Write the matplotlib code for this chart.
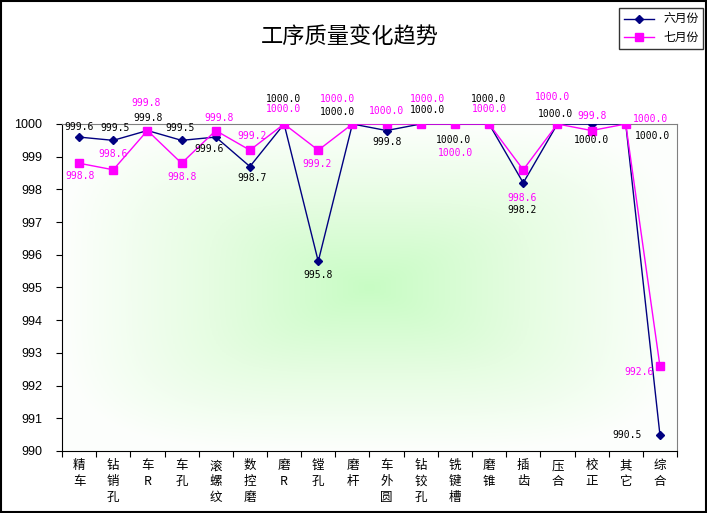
import numpy as np
import matplotlib.pyplot as plt
from matplotlib.colors import LinearSegmentedColormap

plt.rcParams['font.family'] = ['Noto Sans CJK SC', 'DejaVu Sans']

# data
cats = ['精\n车', '钻\n销\n孔', '车\nR', '车\n孔', '滚\n螺\n纹', '数\n控\n磨', '磨\nR', '镗\n孔', '磨\n杆',
        '车\n外\n圆', '钻\n铰\n孔', '铣\n键\n槽', '磨\n锥', '插\n齿', '压\n合', '校\n正', '其\n它', '综\n合']
june = [999.6, 999.5, 999.8, 999.5, 999.6, 998.7, 1000.0, 995.8, 1000.0,
        999.8, 1000.0, 1000.0, 1000.0, 998.2, 1000.0, 1000.0, 1000.0, 990.5]
july = [998.8, 998.6, 999.8, 998.8, 999.8, 999.2, 1000.0, 999.2, 1000.0,
        1000.0, 1000.0, 1000.0, 1000.0, 998.6, 1000.0, 999.8, 1000.0, 992.6]

# label offsets in pixels (dx, dy)
june_off = [(0, 10), (2, 12), (1, 12.5), (-2, 12), (-7, -12), (2, -11.5), (-1, 25), (0, -14), (-15, 12),
            (0, -11.5), (7, 14), (-1, -16), (-1, 25), (-1, -27), (-2, 10), (0, -16), (27, -12), (-33, 0)]
july_off = [(1, -13), (0, 16), (-1, 27.5), (0, -14), (3, 12.5), (2, 14), (-1, 15), (-1, -14), (-15, 25),
            (0, 13), (7, 25), (1, -29), (0, 15), (-1, -28), (-5, 27), (0, 14.5), (25, 5), (-21, -6)]

fig = plt.figure(figsize=(7.07, 5.13), dpi=100)
ax = fig.add_axes([62 / 707, 1 - 451 / 513, 615 / 707, 327 / 513])
x = np.arange(len(cats))

# green "from center" gradient fill
gx, gy = np.meshgrid(np.linspace(-1, 1, 300), np.linspace(-1, 1, 300))
r = np.clip((np.abs(gx) ** 4 + np.abs(gy) ** 4) ** 0.25, 0, 1)
cmap = LinearSegmentedColormap.from_list('bg', ['#c8fcc4', '#e6fde2', '#ffffff'])
ax.imshow(r, cmap=cmap, extent=[-0.5, len(cats) - 0.5, 990, 1000], aspect='auto', zorder=0,
          vmin=0, vmax=1.05)

ax.plot(x, june, color='#000080', marker='D', markersize=4, lw=1, label='六月份', zorder=3)
ax.plot(x, july, color='#ff00ff', marker='s', markersize=5.5, lw=1, label='七月份', zorder=3)

for i in range(len(cats)):
    ax.annotate('%.1f' % june[i], (x[i], june[i]), xytext=june_off[i], textcoords='offset pixels',
                ha='center', va='center', fontsize=7, family='DejaVu Sans Mono', color='black',
                annotation_clip=False)
    ax.annotate('%.1f' % july[i], (x[i], july[i]), xytext=july_off[i], textcoords='offset pixels',
                ha='center', va='center', fontsize=7, family='DejaVu Sans Mono', color='#ff00ff',
                annotation_clip=False)

ax.set_xlim(-0.5, len(cats) - 0.5)
ax.set_ylim(990, 1000)
ax.set_yticks(np.arange(990, 1001, 1))
ax.tick_params(axis='y', direction='out', length=4, labelsize=9, pad=10)
for lb in ax.get_yticklabels():
    lb.set_family('Liberation Sans')
ax.set_xticks(np.arange(-0.5, len(cats), 1))
ax.set_xticklabels([])
ax.tick_params(axis='x', direction='out', length=4)
for i, c in enumerate(cats):
    ax.text(x[i], 989.75, c, ha='center', va='top', fontsize=9, linespacing=1.3)

ax.spines['top'].set_color('#808080')
ax.spines['right'].set_color('#808080')

fig.text(350 / 707, 1 - 37 / 513, '工序质量变化趋势', ha='center', va='center', fontsize=16)

leg = fig.legend(loc='upper right', bbox_to_anchor=(703 / 707, 1 - 8 / 513), fontsize=8.5,
                 frameon=True, fancybox=False, edgecolor='black', handlelength=2.5,
                 borderpad=0.4, labelspacing=0.45, borderaxespad=0)
leg.get_frame().set_linewidth(1)

fig.patches.append(plt.Rectangle((0.001, 0.001), 0.997, 0.997, transform=fig.transFigure,
                                 fill=False, edgecolor='black', lw=1.5))

plt.savefig('out.png', dpi=100)
